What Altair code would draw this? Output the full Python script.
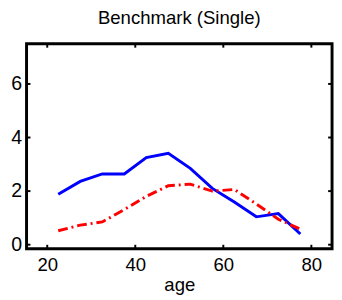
import altair as alt
import pandas as pd

ages = [22.5, 27.5, 32.5, 37.5, 42.5, 47.5, 52.5, 57.5, 62.5, 67.5, 72.5, 77.5]
blue_vals = [1.88, 2.36, 2.64, 2.64, 3.25, 3.41, 2.85, 2.10, 1.59, 1.04, 1.16, 0.40]
red_vals = [0.52, 0.73, 0.85, 1.31, 1.80, 2.20, 2.26, 2.00, 2.06, 1.52, 0.95, 0.58]
x_ticks = [20, 40, 60, 80]
y_ticks = [0, 2, 4, 6]

df_b = pd.DataFrame({"age": ages, "value": blue_vals})
df_r = pd.DataFrame({"age": ages, "value": red_vals})
df_xt = pd.DataFrame({"age": x_ticks})
df_yt = pd.DataFrame({"value": y_ticks})

FONT = "Liberation Sans"
W, H = 313, 210

xs = alt.Scale(domain=[15.3, 84.7], nice=False, zero=False)
ys = alt.Scale(domain=[-0.15, 7.5], nice=False, zero=False)

x = alt.X("age:Q", scale=xs,
          axis=alt.Axis(values=x_ticks, title="age", ticks=False, domain=False, grid=False,
                        labelFontSize=19, titleFontSize=19, labelFont=FONT, titleFont=FONT,
                        titleFontWeight="normal", labelColor="black", titleColor="black",
                        labelPadding=7, titlePadding=2, labelFlush=False))
y = alt.Y("value:Q", scale=ys,
          axis=alt.Axis(values=y_ticks, title=None, ticks=False, domain=False, grid=False,
                        labelFontSize=20, labelFont=FONT, labelColor="black",
                        labelPadding=5, labelFlush=False))

blue = alt.Chart(df_b).mark_line(color="#0000FF", strokeWidth=3).encode(x=x, y=y)
red = alt.Chart(df_r).mark_line(color="#FF0000", strokeWidth=3,
                                strokeDash=[10, 4, 2, 4]).encode(x=x, y=y)

tick_style = dict(color="black", strokeWidth=2)
xt_bottom = alt.Chart(df_xt).mark_rule(**tick_style).encode(
    x=alt.X("age:Q", scale=xs), y=alt.value(H), y2=alt.value(H - 4))
xt_top = alt.Chart(df_xt).mark_rule(**tick_style).encode(
    x=alt.X("age:Q", scale=xs), y=alt.value(0), y2=alt.value(4))
yt_left = alt.Chart(df_yt).mark_rule(**tick_style).encode(
    y=alt.Y("value:Q", scale=ys), x=alt.value(0), x2=alt.value(4))
yt_right = alt.Chart(df_yt).mark_rule(**tick_style).encode(
    y=alt.Y("value:Q", scale=ys), x=alt.value(W), x2=alt.value(W - 4))

chart = alt.layer(blue, red, xt_bottom, xt_top, yt_left, yt_right).properties(
    width=W, height=H,
    background="white",
    title=alt.TitleParams("Benchmark (Single)", fontSize=19, font=FONT,
                          fontWeight="normal", color="black", offset=15),
    autosize=alt.AutoSizeParams(type="none"),
    padding={"left": 19, "top": 33, "right": 2, "bottom": 52},
).configure_view(stroke="black", strokeWidth=3)

chart.save("out.html", embed_options={"renderer": "svg", "actions": False})
